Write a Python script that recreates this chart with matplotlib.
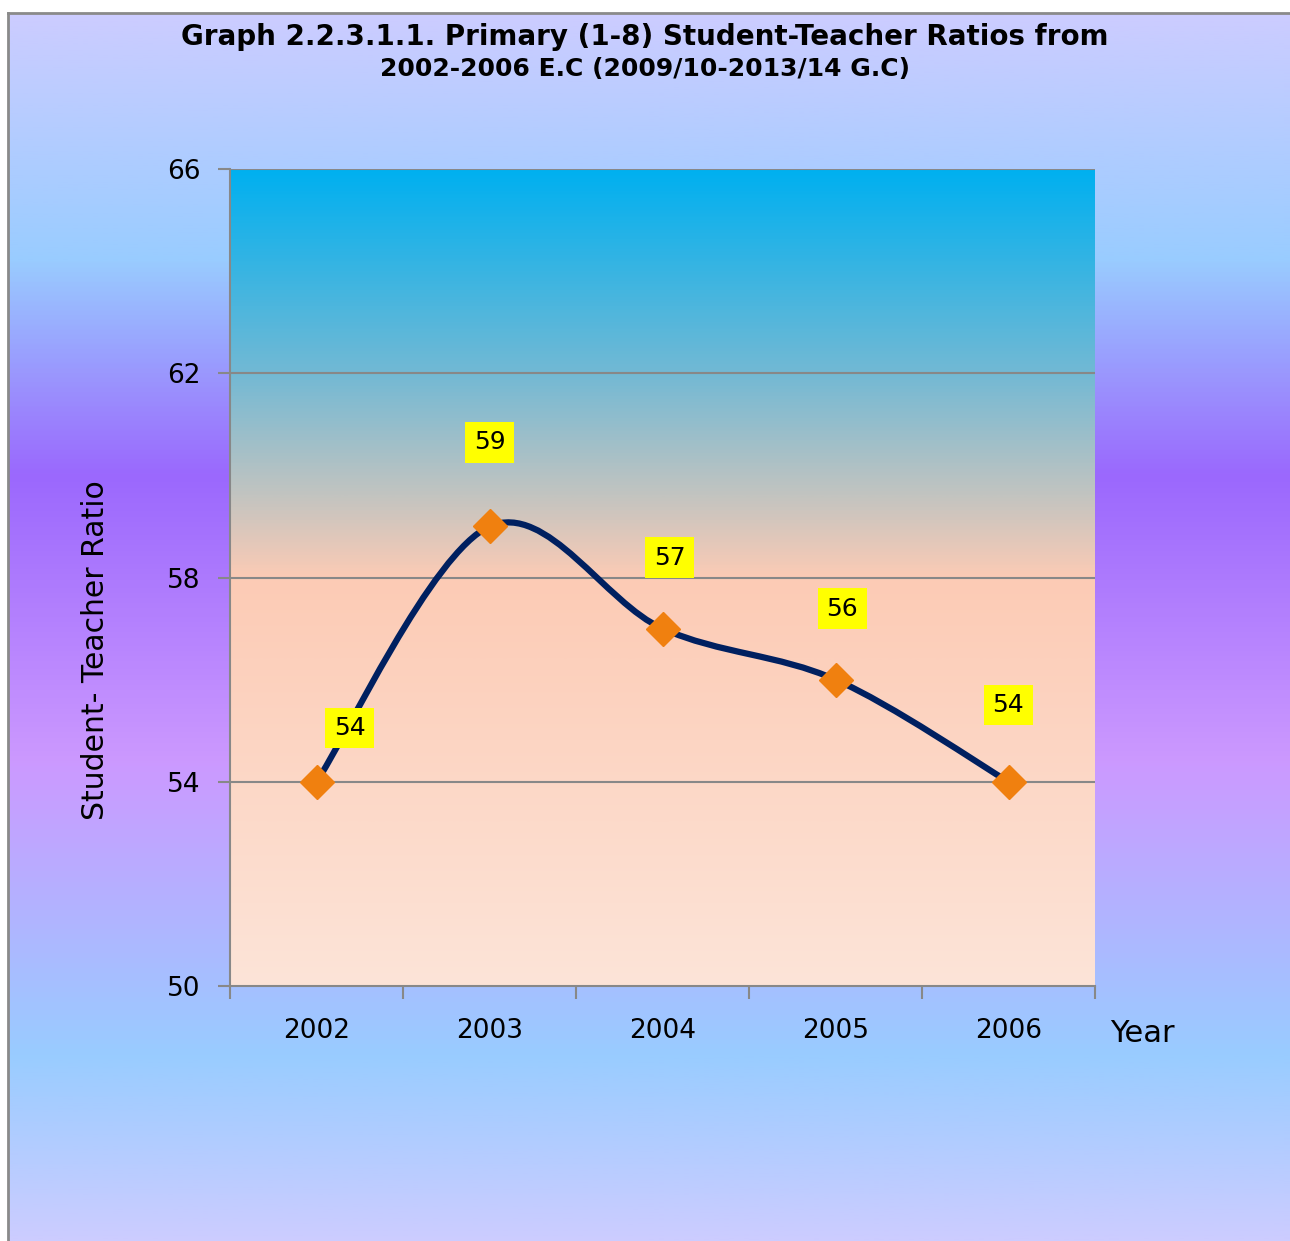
import numpy as np
import matplotlib.pyplot as plt
from matplotlib.path import Path
from matplotlib.patches import PathPatch
from matplotlib.colors import LinearSegmentedColormap

# chart data
years = ["2002", "2003", "2004", "2005", "2006"]
ratios = [54, 59, 57, 56, 54]
label_offsets = [(33, 54), (0, 84), (7, 71), (7, 71), (0, 77)]  # pixels, label above point
y_ticks = [50, 54, 58, 62, 66]

plt.rcParams['font.family'] = ['DejaVu Sans']

fig = plt.figure(figsize=(12.9, 12.41), dpi=100)
fig.patch.set_facecolor("white")

# outer chart background (vertical gradient)
bg = fig.add_axes([8 / 1290, 0, 1 - 8 / 1290, 1 - 13 / 1241], zorder=-10)
bg_cmap = LinearSegmentedColormap.from_list("bg", [
    (0.00, (204/255, 204/255, 255/255)),
    (0.20, (153/255, 204/255, 255/255)),
    (0.376, (155/255, 104/255, 253/255)),
    (0.61, (204/255, 153/255, 255/255)),
    (0.85, (153/255, 204/255, 255/255)),
    (1.00, (204/255, 204/255, 255/255)),
])
bg.imshow(np.linspace(0, 1, 512).reshape(-1, 1), cmap=bg_cmap, aspect="auto",
          extent=[0, 1, 0, 1], origin="upper")
bg.set_xlim(0, 1)
bg.set_ylim(0, 1)
bg.set_xticks([])
bg.set_yticks([])
for s in ["right", "bottom"]:
    bg.spines[s].set_visible(False)
for s in ["top", "left"]:
    bg.spines[s].set_color("#8a8a8a")
    bg.spines[s].set_linewidth(2)

# plot area
ax = fig.add_axes([230 / 1290, 1 - 986 / 1241, 865 / 1290, 817 / 1241])
x = np.arange(len(years))
ax.set_xlim(-0.5, len(years) - 0.5)
ax.set_ylim(y_ticks[0], y_ticks[-1])

pa_cmap = LinearSegmentedColormap.from_list("pa", [
    (0.00, (0 / 255, 176 / 255, 240 / 255)),
    (0.25, (115 / 255, 185 / 255, 212 / 255)),
    (0.40, (195 / 255, 196 / 255, 192 / 255)),
    (0.50, (252 / 255, 203 / 255, 181 / 255)),
    (1.00, (253 / 255, 228 / 255, 216 / 255)),
])
ax.imshow(np.linspace(0, 1, 512).reshape(-1, 1), cmap=pa_cmap, aspect="auto",
          extent=[-0.5, len(years) - 0.5, y_ticks[0], y_ticks[-1]], origin="upper", zorder=0)

# gridlines
for v in y_ticks[1:]:
    ax.axhline(v, color="#888888", lw=1.5, zorder=1)

# smoothed line (Catmull-Rom as cubic Bezier, like Excel's smoothed line)
pts = np.column_stack([x, ratios]).astype(float)
ext = np.vstack([pts[0], pts, pts[-1]])
verts = [tuple(pts[0])]
codes = [Path.MOVETO]
for i in range(len(pts) - 1):
    p0, p1, p2, p3 = ext[i], ext[i + 1], ext[i + 2], ext[i + 3]
    c1 = p1 + (p2 - p0) / 6
    c2 = p2 - (p3 - p1) / 6
    verts += [tuple(c1), tuple(c2), tuple(p2)]
    codes += [Path.CURVE4] * 3
ax.add_patch(PathPatch(Path(verts, codes), facecolor="none", edgecolor="#002060",
                       lw=4.5, zorder=3, capstyle="round"))
ax.plot(x, ratios, linestyle="none", marker="D", markersize=17,
        markerfacecolor="#f0800f", markeredgecolor="#f0800f", zorder=4)

for xi, yi, (dx, dy) in zip(x, ratios, label_offsets):
    ax.annotate(str(yi), (xi, yi), xytext=(dx, dy), textcoords="offset pixels",
                ha="center", va="center", fontsize=18, zorder=5,
                bbox=dict(boxstyle="square,pad=0.33", fc="#ffff00", ec="none"))

# axes styling
for s in ["top", "right"]:
    ax.spines[s].set_visible(False)
for s in ["left", "bottom"]:
    ax.spines[s].set_color("#888888")
    ax.spines[s].set_linewidth(1.5)
ax.set_yticks(y_ticks)
ax.tick_params(axis="y", direction="out", length=9, width=1.5, color="#888888",
               labelsize=19, pad=12)
ax.set_xticks(x)
ax.set_xticklabels(years)
ax.set_xticks(np.arange(-0.5, len(years)), minor=True)
ax.tick_params(axis="x", which="major", length=0, labelsize=19, pad=23)
ax.tick_params(axis="x", which="minor", direction="out", length=9, width=1.5, color="#888888")

fig.text(95 / 1290, 1 - 650 / 1241, "Student- Teacher Ratio", rotation=90,
         ha="center", va="center", fontsize=21.5)
fig.text(1142 / 1290, 1 - 1033 / 1241, "Year", ha="center", va="center", fontsize=22)

fig.text(645 / 1290, 1 - 37 / 1241, "Graph 2.2.3.1.1. Primary (1-8) Student-Teacher Ratios from",
         ha="center", va="center", fontsize=20, fontweight="bold")
fig.text(645 / 1290, 1 - 69 / 1241, "2002-2006 E.C (2009/10-2013/14 G.C)",
         ha="center", va="center", fontsize=18, fontweight="bold")

fig.savefig("out.png", dpi=100)
